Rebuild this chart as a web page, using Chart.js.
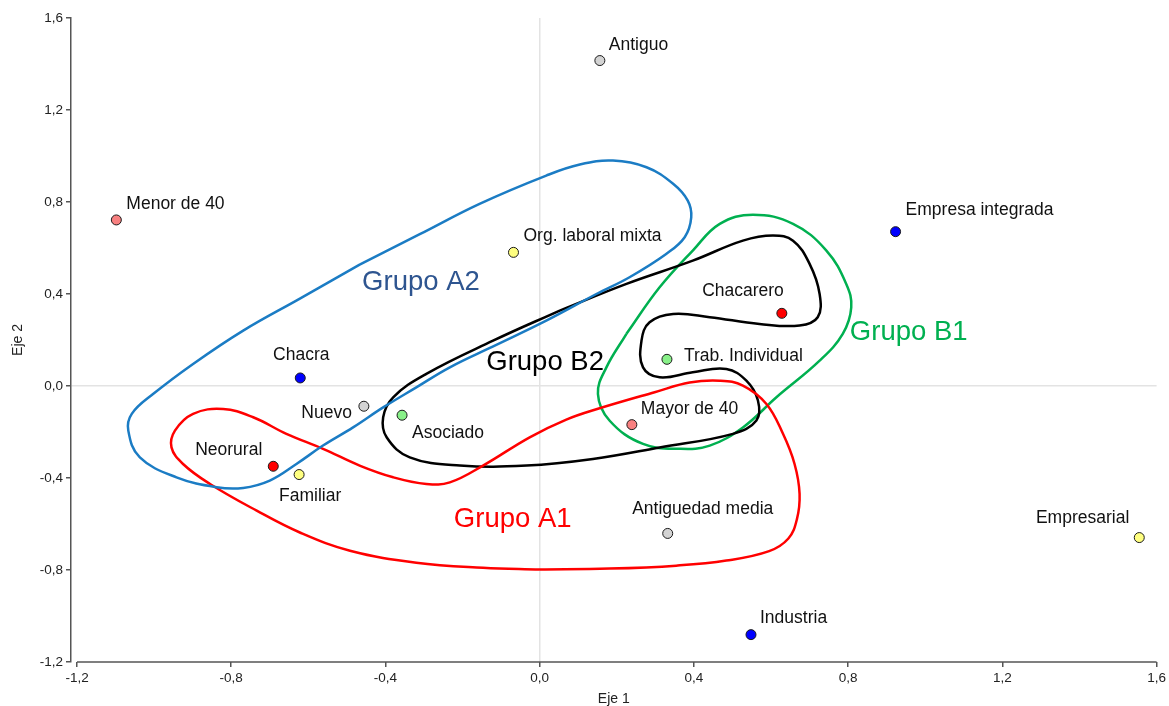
<!DOCTYPE html>
<html>
<head>
<meta charset="utf-8">
<title>Eje 1 / Eje 2</title>
<script src="https://cdn.jsdelivr.net/npm/chart.js@4.4.1/dist/chart.umd.min.js"></script>
<style>
  html, body { margin: 0; padding: 0; background: #fff; }
  #wrap { width: 1169px; height: 706px; position: relative; }
</style>
</head>
<body>
<div id="wrap"><canvas id="mapa"></canvas></div>
<script>
// ---- datos: coordenadas de las categorias (Eje 1, Eje 2) ----
const grisNombres = ["Antiguo", "Nuevo", "Antiguedad media"];
const grisX = [0.156, -0.456, 0.332];
const grisY = [1.415, -0.088, -0.641];

const salmonNombres = ["Menor de 40", "Mayor de 40"];
const salmonX = [-1.098, 0.239];
const salmonY = [0.722, -0.168];

const amarilloNombres = ["Org. laboral mixta", "Familiar", "Empresarial"];
const amarilloX = [-0.068, -0.624, 1.555];
const amarilloY = [0.581, -0.385, -0.659];

const azulNombres = ["Empresa integrada", "Chacra", "Industria"];
const azulX = [0.923, -0.621, 0.548];
const azulY = [0.671, 0.035, -1.081];

const rojoNombres = ["Chacarero", "Neorural"];
const rojoX = [0.628, -0.691];
const rojoY = [0.316, -0.349];

const verdeNombres = ["Trab. Individual", "Asociado"];
const verdeX = [0.330, -0.357];
const verdeY = [0.116, -0.127];

const ejeTicks = [-1.2, -0.8, -0.4, 0.0, 0.4, 0.8, 1.2, 1.6];

// contornos de los grupos (puntos de control)
const contornoA2 = [
  [-0.467, 0.528], [-0.311, 0.660], [-0.156, 0.792], [0.017, 0.915],
  [0.104, 0.963], [0.190, 0.980], [0.277, 0.951], [0.346, 0.879], [0.384, 0.806],
  [0.393, 0.733], [0.376, 0.647], [0.328, 0.574], [0.233, 0.473], [0.147, 0.400],
  [0.017, 0.284], [-0.122, 0.171], [-0.233, 0.081], [-0.320, -0.006], [-0.406, -0.093],
  [-0.484, -0.180], [-0.562, -0.259], [-0.631, -0.339], [-0.700, -0.411], [-0.769, -0.443],
  [-0.838, -0.440], [-0.942, -0.397], [-1.037, -0.310], [-1.067, -0.194], [-1.058, -0.121],
  [-1.002, -0.034], [-0.899, 0.096], [-0.769, 0.241], [-0.622, 0.380], [-0.467, 0.528]
];
const contornoA1 = [
  [0.000, -0.798], [-0.147, -0.790], [-0.320, -0.768], [-0.492, -0.716], [-0.622, -0.637],
  [-0.734, -0.542], [-0.855, -0.426], [-0.925, -0.339], [-0.955, -0.267], [-0.946, -0.194],
  [-0.899, -0.121], [-0.821, -0.100], [-0.743, -0.136], [-0.657, -0.208], [-0.562, -0.273],
  [-0.467, -0.346], [-0.380, -0.397], [-0.294, -0.426], [-0.233, -0.419], [-0.147, -0.346],
  [-0.026, -0.223], [0.069, -0.146], [0.149, -0.100], [0.298, -0.027], [0.389, 0.015],
  [0.467, 0.023], [0.527, 0.002], [0.588, -0.078], [0.631, -0.208], [0.661, -0.339],
  [0.674, -0.469], [0.667, -0.580], [0.645, -0.663], [0.595, -0.718], [0.484, -0.759],
  [0.354, -0.781], [0.181, -0.794], [0.000, -0.798]
];
const contornoB2 = [
  [0.052, 0.328], [0.225, 0.444], [0.397, 0.545], [0.527, 0.632], [0.605, 0.654],
  [0.657, 0.632], [0.700, 0.531], [0.726, 0.400], [0.721, 0.299], [0.674, 0.263],
  [0.570, 0.270], [0.441, 0.299], [0.346, 0.313], [0.285, 0.277], [0.264, 0.197],
  [0.268, 0.081], [0.311, 0.038], [0.397, 0.060], [0.484, 0.074], [0.536, 0.023],
  [0.566, -0.063], [0.562, -0.150], [0.501, -0.208], [0.311, -0.267], [0.138, -0.317],
  [-0.034, -0.346], [-0.207, -0.346], [-0.337, -0.310], [-0.397, -0.223], [-0.406, -0.136],
  [-0.380, -0.049], [-0.294, 0.053], [-0.121, 0.197], [0.052, 0.328]
];
const contornoB1 = [
  [0.225, 0.227], [0.311, 0.429], [0.397, 0.589], [0.467, 0.705], [0.553, 0.745],
  [0.657, 0.705], [0.743, 0.590], [0.795, 0.444], [0.808, 0.342], [0.786, 0.227],
  [0.726, 0.110], [0.614, -0.049], [0.527, -0.180], [0.441, -0.259], [0.363, -0.273],
  [0.268, -0.252], [0.181, -0.150], [0.151, -0.034], [0.173, 0.081], [0.225, 0.227]
];

const gruposNombres = ["Grupo A2", "Grupo B2", "Grupo B1", "Grupo A1"];
const gruposX = [-0.308, 0.014, 0.957, -0.070];
const gruposY = [0.451, 0.103, 0.233, -0.580];

// ---- estilo ----
const fuente = '"Liberation Sans", Arial, sans-serif';
const gruposColor = ['#2E5590', '#000000', '#00B050', '#FF0000'];

// desplazamiento de cada etiqueta respecto a su punto (px) y alineacion
const etiquetaPos = {
  "Antiguo": [9, -15, 'left'],
  "Nuevo": [-12, 7, 'right'],
  "Antiguedad media": [35, -24, 'center'],
  "Menor de 40": [10, -16, 'left'],
  "Mayor de 40": [9, -15, 'left'],
  "Org. laboral mixta": [10, -16, 'left'],
  "Familiar": [11, 22, 'center'],
  "Empresarial": [-10, -19, 'right'],
  "Empresa integrada": [10, -21, 'left'],
  "Chacra": [1, -23, 'center'],
  "Industria": [9, -16, 'left'],
  "Chacarero": [2, -22, 'right'],
  "Neorural": [-11, -16, 'right'],
  "Trab. Individual": [17, -3, 'left'],
  "Asociado": [10, 18, 'left']
};

const categorias = [
  { nombres: grisNombres, x: grisX, y: grisY, color: '#D3D3D3' },
  { nombres: salmonNombres, x: salmonX, y: salmonY, color: '#F88080' },
  { nombres: amarilloNombres, x: amarilloX, y: amarilloY, color: '#FFFF80' },
  { nombres: azulNombres, x: azulX, y: azulY, color: '#0000FF' },
  { nombres: rojoNombres, x: rojoX, y: rojoY, color: '#FF0000' },
  { nombres: verdeNombres, x: verdeX, y: verdeY, color: '#88F088' }
];

const contornos = [
  { pts: contornoA2, color: '#1B7CC4' },
  { pts: contornoA1, color: '#FF0000' },
  { pts: contornoB2, color: '#000000' },
  { pts: contornoB1, color: '#00B050' }
];

const fmt = v => v.toFixed(1).replace('.', ',').replace('-0,0', '0,0');

const datasets = [];
contornos.forEach(c => {
  datasets.push({
    data: c.pts.map(p => ({ x: p[0], y: p[1] })),
    showLine: true,
    borderColor: c.color,
    borderWidth: 2.5,
    pointRadius: 0,
    tension: 0.4,
    fill: false,
    order: 2
  });
});
categorias.forEach(c => {
  datasets.push({
    data: c.x.map((v, i) => ({ x: v, y: c.y[i] })),
    showLine: false,
    pointRadius: 5,
    pointBackgroundColor: c.color,
    pointBorderColor: '#1a1a1a',
    pointBorderWidth: 1,
    order: 1
  });
});

// etiquetas de puntos y de grupos + linea del eje 1
const etiquetasPlugin = {
  id: 'etiquetas',
  beforeDatasetsDraw(chart) {
    const ctx = chart.ctx;
    const sx = chart.scales.x;
    const y0 = chart.chartArea.bottom;
    ctx.save();
    ctx.strokeStyle = '#555';
    ctx.lineWidth = 1.5;
    ctx.beginPath();
    ctx.moveTo(sx.getPixelForValue(ejeTicks[0]), y0);
    ctx.lineTo(sx.getPixelForValue(ejeTicks[ejeTicks.length - 1]), y0);
    ctx.stroke();
    ctx.restore();
  },
  afterDatasetsDraw(chart) {
    const ctx = chart.ctx;
    const sx = chart.scales.x, sy = chart.scales.y;
    ctx.save();
    ctx.textBaseline = 'middle';
    ctx.font = '17.5px ' + fuente;
    ctx.fillStyle = '#111';
    categorias.forEach(c => {
      c.nombres.forEach((n, i) => {
        const p = etiquetaPos[n];
        ctx.textAlign = p[2];
        ctx.fillText(n, sx.getPixelForValue(c.x[i]) + p[0], sy.getPixelForValue(c.y[i]) + p[1]);
      });
    });
    ctx.font = '27.5px ' + fuente;
    ctx.textAlign = 'center';
    gruposNombres.forEach((g, i) => {
      ctx.fillStyle = gruposColor[i];
      ctx.fillText(g, sx.getPixelForValue(gruposX[i]), sy.getPixelForValue(gruposY[i]));
    });
    ctx.restore();
  }
};

const rejilla = {
  color: c => (c.tick && c.tick.value === 0) ? '#e3e3e3' : 'rgba(0,0,0,0)',
  lineWidth: 1.5,
  tickColor: '#555',
  tickWidth: 1.5,
  tickLength: 5
};

const config = {
  type: 'scatter',
  data: { datasets: datasets },
  options: {
    responsive: true,
    maintainAspectRatio: false,
    animation: false,
    events: [],
    layout: { padding: { left: 0, right: 12, top: 18, bottom: 0 } },
    plugins: {
      legend: { display: false },
      tooltip: { enabled: false }
    },
    scales: {
      x: {
        type: 'linear',
        min: -1.2156,
        max: 1.6,
        afterBuildTicks: s => { s.ticks = ejeTicks.map(v => ({ value: v })); },
        afterFit: s => { s.height = 44; },
        border: { display: false },
        grid: rejilla,
        ticks: {
          color: '#222',
          font: { family: fuente, size: 13.5 },
          padding: 3,
          maxRotation: 0,
          autoSkip: false,
          callback: v => fmt(v)
        },
        title: {
          display: true,
          text: 'Eje 1',
          color: '#222',
          font: { family: fuente, size: 14, lineHeight: 1 },
          padding: { top: 0, bottom: 0 }
        }
      },
      y: {
        type: 'linear',
        min: -1.2,
        max: 1.6,
        afterBuildTicks: s => { s.ticks = ejeTicks.map(v => ({ value: v })); },
        afterFit: s => { s.width = 71; },
        border: { display: true, color: '#555', width: 1.5 },
        grid: rejilla,
        ticks: {
          color: '#222',
          font: { family: fuente, size: 13.5 },
          padding: 3,
          autoSkip: false,
          callback: v => fmt(v)
        },
        title: {
          display: true,
          text: 'Eje 2',
          color: '#222',
          font: { family: fuente, size: 14 },
          padding: { top: 10, bottom: 0 }
        }
      }
    }
  },
  plugins: [etiquetasPlugin]
};

const mapa = new Chart(document.getElementById('mapa'), config);
</script>
</body>
</html>
